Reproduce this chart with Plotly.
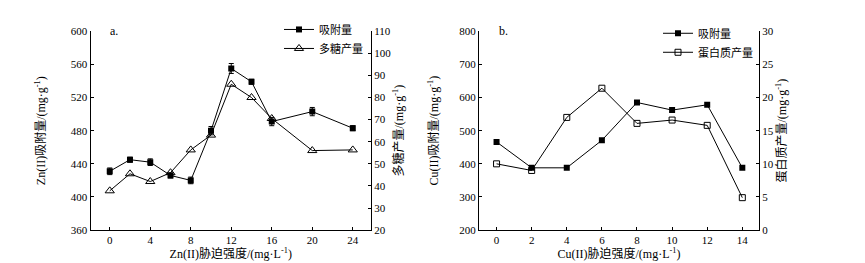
import plotly.graph_objects as go

# Panel a: Zn(II)
zn_x = [0, 2, 4, 6, 8, 10, 12, 14, 16, 20, 24]
zn_ads = [431, 445, 442, 426, 420, 480, 555, 539, 491, 503, 483]
zn_ads_err = [4, 3, 4, 3, 4, 5, 6, 3, 5, 5, 3]
zn_poly = [37.8, 45.5, 42, 46, 56.3, 63, 86, 80, 70.5, 56, 56.3]

# Panel b: Cu(II)
cu_x = [0, 2, 4, 6, 8, 10, 12, 14]
cu_ads = [466, 388, 388, 471, 585, 562, 578, 388]
cu_prot = [10, 9.0, 17.0, 21.4, 16.1, 16.6, 15.8, 4.9]

FONT = "'Liberation Serif', 'Times New Roman', 'Noto Sans CJK SC', serif"
CJK = "'Liberation Serif', 'Noto Sans CJK SC', serif"
W, H = 865, 263

fig = go.Figure()
line = dict(color="black", width=1)

fig.add_trace(go.Scatter(x=zn_x, y=zn_ads, mode="lines+markers", name="吸附量",
                         line=line, marker=dict(symbol="square", size=6, color="black"),
                         error_y=dict(type="data", array=zn_ads_err, color="black", thickness=1, width=2.5),
                         xaxis="x", yaxis="y", legend="legend"))
fig.add_trace(go.Scatter(x=zn_x, y=zn_poly, mode="lines+markers", name="多糖产量",
                         line=line, marker=dict(symbol="triangle-up-open", size=8, color="black", line=dict(width=1)),
                         xaxis="x", yaxis="y2", legend="legend"))
fig.add_trace(go.Scatter(x=cu_x, y=cu_ads, mode="lines+markers", name="吸附量",
                         line=line, marker=dict(symbol="square", size=6, color="black"),
                         xaxis="x2", yaxis="y3", legend="legend2"))
fig.add_trace(go.Scatter(x=cu_x, y=cu_prot, mode="lines+markers", name="蛋白质产量",
                         line=line, marker=dict(symbol="square-open", size=6, color="black", line=dict(width=1)),
                         xaxis="x2", yaxis="y4", legend="legend2"))

ydom = [1 - 226.5 / H, 1 - 18 / H]
xa_dom = [82.5 / W, 363 / W]
xb_dom = [471 / W, 751 / W]

axis_common = dict(showline=True, linecolor="black", linewidth=1, ticks="inside", ticklen=3,
                   tickcolor="black", showgrid=False, zeroline=False, mirror=False,
                   tickfont=dict(family=FONT, size=11, color="black"))

fig.update_layout(
    width=W, height=H, margin=dict(l=0, r=0, t=0, b=0),
    plot_bgcolor="white", paper_bgcolor="white",
    font=dict(family=CJK, size=11, color="black"),
    xaxis=dict(domain=xa_dom, anchor="y", range=[-1.9, 25.8], tickvals=[0, 4, 8, 12, 16, 20, 24],
               title=dict(text="Zn(II)胁迫强度/(mg·L<sup>-1</sup>)", font=dict(size=12), standoff=1),
               **axis_common),
    yaxis=dict(domain=ydom, anchor="x", range=[360, 600], tickvals=[360, 400, 440, 480, 520, 560, 600],
               title=dict(text="Zn(II)吸附量/(mg·g<sup>-1</sup>)", font=dict(size=12), standoff=22),
               **axis_common),
    yaxis2=dict(domain=ydom, anchor="x", overlaying="y", side="right", range=[20, 110],
                tickvals=list(range(20, 111, 10)),
                title=dict(text="多糖产量/(mg·g<sup>-1</sup>)", font=dict(size=12), standoff=4),
                **axis_common),
    xaxis2=dict(domain=xb_dom, anchor="y3", range=[-1, 14.95], tickvals=list(range(0, 15, 2)),
                title=dict(text="Cu(II)胁迫强度/(mg·L<sup>-1</sup>)", font=dict(size=12), standoff=1),
                **axis_common),
    yaxis3=dict(domain=ydom, anchor="x2", range=[200, 800], tickvals=list(range(200, 801, 100)),
                title=dict(text="Cu(II)吸附量/(mg·g<sup>-1</sup>)", font=dict(size=12), standoff=18),
                **axis_common),
    yaxis4=dict(domain=ydom, anchor="x2", overlaying="y3", side="right", range=[0, 30],
                tickvals=list(range(0, 31, 5)),
                title=dict(text="蛋白质产量/(mg·g<sup>-1</sup>)", font=dict(size=12), standoff=4),
                **axis_common),
    legend=dict(x=271 / W, y=1 - 1 / H, xanchor="left", yanchor="top", bgcolor="rgba(0,0,0,0)",
                font=dict(family=CJK, size=11), itemwidth=30, tracegroupgap=0, traceorder="normal"),
    legend2=dict(x=650 / W, y=1 - 5 / H, xanchor="left", yanchor="top", bgcolor="rgba(0,0,0,0)",
                 font=dict(family=CJK, size=11), itemwidth=30, tracegroupgap=0, traceorder="normal"),
    annotations=[
        dict(text="a.", x=100 / W, y=1 - 18 / H, xref="paper", yref="paper", showarrow=False,
             xanchor="left", yanchor="middle", font=dict(family=FONT, size=12)),
        dict(text="b.", x=489 / W, y=1 - 18 / H, xref="paper", yref="paper", showarrow=False,
             xanchor="left", yanchor="middle", font=dict(family=FONT, size=12)),
    ],
)

fig.write_html("out.html")
